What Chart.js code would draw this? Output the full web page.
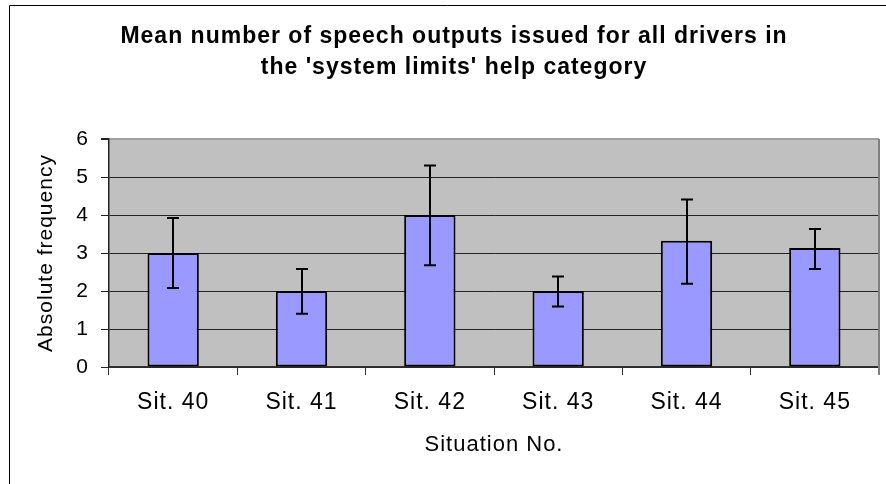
<!DOCTYPE html>
<html>
<head>
<meta charset="utf-8">
<title>Speech outputs - system limits</title>
<script src="https://cdn.jsdelivr.net/npm/chart.js@4.4.1/dist/chart.umd.min.js"></script>
<style>
  html, body { margin: 0; padding: 0; background: #fff; overflow: hidden; }
  #chart { display: block; }
</style>
</head>
<body>
<canvas id="chart" width="886" height="484"></canvas>
<script>
// Data
const categories = ['Sit. 40', 'Sit. 41', 'Sit. 42', 'Sit. 43', 'Sit. 44', 'Sit. 45'];
const meanOutputs = [3, 2, 4, 2, 3.32, 3.13];
const errorLow = [2.08, 1.4, 2.68, 1.59, 2.19, 2.58];
const errorHigh = [3.92, 2.58, 5.3, 2.38, 4.41, 3.63];
const yTicks = [0, 1, 2, 3, 4, 5, 6];

const titleLines = ['Mean number of speech outputs issued for all drivers in', "the 'system limits' help category"];
const fontFamily = '"Liberation Sans", Arial, sans-serif';

// Text in the original is slightly stretched, so widen letters a bit
const spacing = {
  id: 'spacing',
  beforeUpdate(chart) {
    chart.ctx.letterSpacing = '1px';
  },
  beforeDraw(chart) {
    chart.ctx.letterSpacing = '1px';
  }
};

// White background, plot background, outer frame (only top and left edges are inside the picture)
const frame = {
  id: 'frame',
  beforeDraw(chart) {
    const { ctx, chartArea } = chart;
    ctx.save();
    ctx.fillStyle = '#fff';
    ctx.fillRect(0, 0, chart.width, chart.height);
    ctx.fillStyle = '#C0C0C0';
    ctx.fillRect(chartArea.left, chartArea.top, chartArea.right - chartArea.left, chartArea.bottom - chartArea.top);
    ctx.strokeStyle = '#000';
    ctx.lineWidth = 1;
    ctx.beginPath();
    ctx.moveTo(9.5, chart.height);
    ctx.lineTo(9.5, 5.5);
    ctx.lineTo(chart.width, 5.5);
    ctx.stroke();
    ctx.restore();
  },
  beforeDatasetsDraw(chart) {
    // right edge of the plot area
    const { ctx, chartArea } = chart;
    ctx.save();
    ctx.strokeStyle = '#808080';
    ctx.lineWidth = 2;
    ctx.beginPath();
    ctx.moveTo(chartArea.right, chartArea.top);
    ctx.lineTo(chartArea.right, chartArea.bottom + 8);
    ctx.stroke();
    ctx.restore();
  }
};

// Error bars
const errorBars = {
  id: 'errorBars',
  afterDatasetsDraw(chart) {
    const ctx = chart.ctx;
    const y = chart.scales.y;
    const meta = chart.getDatasetMeta(0);
    ctx.save();
    ctx.strokeStyle = '#000';
    ctx.lineWidth = 2;
    meta.data.forEach((bar, i) => {
      const top = y.getPixelForValue(errorHigh[i]);
      const bottom = y.getPixelForValue(errorLow[i]);
      const x = Math.round(bar.x);
      ctx.beginPath();
      ctx.moveTo(x, top);
      ctx.lineTo(x, bottom);
      ctx.moveTo(x - 6, top);
      ctx.lineTo(x + 6, top);
      ctx.moveTo(x - 6, bottom);
      ctx.lineTo(x + 6, bottom);
      ctx.stroke();
    });
    ctx.restore();
  }
};

new Chart(document.getElementById('chart'), {
  type: 'bar',
  data: {
    labels: categories,
    datasets: [
      {
        data: meanOutputs,
        backgroundColor: '#9999FF',
        borderColor: '#000',
        borderWidth: 2,
        borderSkipped: false,
        categoryPercentage: 1,
        barPercentage: 0.4,
      },
    ],
  },
  options: {
    responsive: false,
    animation: false,
    devicePixelRatio: 1,
    layout: {
      padding: { left: 29, right: 7, top: 0, bottom: 0 },
    },
    plugins: {
      legend: { display: false },
      tooltip: { enabled: false },
      title: {
        display: true,
        text: titleLines,
        color: '#000',
        font: { family: fontFamily, size: 23, weight: 'bold', lineHeight: 1.348 },
        padding: { top: 21, bottom: 56 },
      },
    },
    scales: {
      x: {
        afterFit(scale) {
          scale.height = 117;
        },
        grid: {
          offset: true,
          drawOnChartArea: false,
          tickLength: 8,
          tickColor: '#333',
        },
        border: { color: '#333', width: 1.5 },
        ticks: {
          color: '#000',
          padding: 14,
          font: { family: fontFamily, size: 23 },
        },
        title: {
          display: true,
          text: 'Situation No.',
          color: '#000',
          font: { family: fontFamily, size: 22 },
          padding: { top: 0, bottom: 26 },
        },
      },
      y: {
        min: 0,
        max: 6,
        afterFit(scale) {
          scale.width = 80;
        },
        afterBuildTicks(scale) {
          scale.ticks = yTicks.map((v) => ({ value: v }));
        },
        grid: {
          color: (c) => (c.tick && c.tick.value === 6 ? '#a0a0a0' : '#222'),
          lineWidth: (c) => (c.tick && c.tick.value === 6 ? 2 : 1),
          tickLength: 8,
          tickColor: '#222',
        },
        border: { color: '#222', width: 1.5 },
        ticks: {
          color: '#000',
          padding: 12,
          font: { family: fontFamily, size: 21 },
        },
        title: {
          display: true,
          text: 'Absolute frequency',
          color: '#000',
          font: { family: fontFamily, size: 21 },
          padding: { top: 5, bottom: 0 },
        },
      },
    },
  },
  plugins: [spacing, frame, errorBars],
});
</script>
</body>
</html>
